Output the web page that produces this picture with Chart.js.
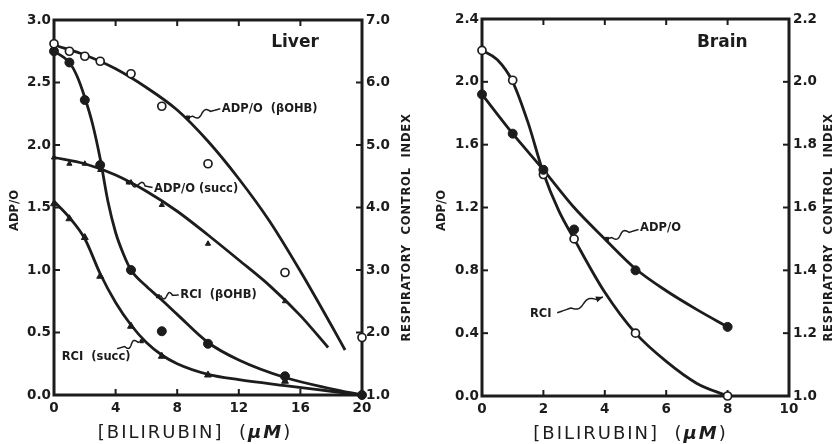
<!DOCTYPE html>
<html><head><meta charset="utf-8">
<script src="https://cdn.jsdelivr.net/npm/chart.js@4"></script>
<style>
html,body{margin:0;padding:0;background:#fff;}
#wrap{position:relative;width:835px;height:444px;overflow:hidden;}
canvas{position:absolute;top:0;}
#liver{left:0}
#brain{left:420px}
</style></head><body>
<div id="wrap"><canvas id="liver" width="420" height="444"></canvas><canvas id="brain" width="415" height="444"></canvas></div>
<script>
// ---------- Liver mitochondria ----------
// measured points (bilirubin, µM)
const liverDose = [0, 1, 2, 3, 5, 7, 10, 15, 20];
const liverAdpoBohb = [2.81, 2.75, 2.71, 2.67, 2.57, 2.31, 1.85, 0.98, 0.46];
const liverRciBohb = [6.50, 6.32, 5.72, 4.68, 3.00, 2.02, 1.82, 1.30, 1.00];
const liverRciSucc = [4.06, 3.82, 3.52, 2.90, 2.10, 1.62, 1.32, 1.22, 1.00];
const liverAdpoSuccDose = [0, 1, 2, 3, 5, 7, 10, 15];
const liverAdpoSucc = [1.90, 1.85, 1.85, 1.80, 1.70, 1.52, 1.21, 0.75];
// hand-drawn fitted curves
const liverFitAdpoBohbDose = [0, 2, 4, 6, 8, 10, 12, 14, 16, 18, 18.9];
const liverFitAdpoBohb = [2.80, 2.72, 2.61, 2.46, 2.28, 2.03, 1.73, 1.39, 0.99, 0.56, 0.36];
const liverFitAdpoSuccDose = [0, 2, 4, 6, 8, 10, 12, 14, 16, 17.8];
const liverFitAdpoSucc = [1.90, 1.85, 1.76, 1.63, 1.47, 1.28, 1.08, 0.875, 0.635, 0.38];
const liverFitRciBohbDose = [0, 1, 1.5, 2, 2.5, 3, 3.5, 4, 4.5, 5, 6, 7, 8, 10, 12, 15, 18, 20];
const liverFitRciBohb = [6.50, 6.32, 6.10, 5.76, 5.34, 4.78, 4.10, 3.60, 3.26, 3.00, 2.74, 2.52, 2.29, 1.84, 1.56, 1.28, 1.10, 1.00];
const liverFitRciSuccDose = [0, 1, 2, 3, 4, 5, 6, 7, 8, 10, 12, 15, 18, 20];
const liverFitRciSucc = [4.10, 3.84, 3.50, 2.94, 2.48, 2.12, 1.84, 1.64, 1.50, 1.33, 1.245, 1.15, 1.06, 1.00];
const liverXTicks = [0, 4, 8, 12, 16, 20];
const liverYTicks = [0, 0.5, 1, 1.5, 2, 2.5, 3];
const liverY2Ticks = [1, 2, 3, 4, 5, 6, 7];

// ---------- Brain mitochondria ----------
const brainDose = [0, 1, 2, 3, 5, 8];
const brainAdpo = [1.92, 1.67, 1.44, 1.06, 0.80, 0.44];
const brainRci = [2.10, 2.005, 1.705, 1.50, 1.20, 1.00];
const brainFitAdpoDose = [0, 1, 2, 3, 4, 5, 6, 7, 8];
const brainFitAdpo = [1.92, 1.67, 1.44, 1.20, 1.00, 0.81, 0.67, 0.55, 0.44];
const brainFitRciDose = [0, 0.5, 1, 1.5, 2, 2.5, 3, 4, 5, 6, 7, 8];
const brainFitRci = [2.10, 2.07, 2.00, 1.87, 1.71, 1.59, 1.50, 1.33, 1.20, 1.11, 1.04, 1.00];
const brainXTicks = [0, 2, 4, 6, 8, 10];
const brainYTicks = [0, 0.4, 0.8, 1.2, 1.6, 2.0, 2.4];
const brainY2Ticks = [1.0, 1.2, 1.4, 1.6, 1.8, 2.0, 2.2];

const ink = '#1c1c1c';
const FONT = '"DejaVu Sans", Verdana, sans-serif';

const pts = (xs, ys) => xs.map((x, i) => ({ x, y: ys[i] }));

function fitLine(xs, ys, axis) {
  return { data: pts(xs, ys), yAxisID: axis, showLine: true, pointRadius: 0,
    borderColor: ink, borderWidth: 2.8, cubicInterpolationMode: 'monotone', clip: false, order: 2 };
}
function marks(xs, ys, axis, style, r, filled) {
  return { data: pts(xs, ys), yAxisID: axis, showLine: false, pointStyle: style, pointRadius: r,
    backgroundColor: filled ? ink : '#fff', borderColor: ink, borderWidth: filled ? 1 : 1.7, clip: false, order: 1 };
}

function squiggle(ctx, tip, tail, arrow) {
  const dx = tail[0] - tip[0], dy = tail[1] - tip[1];
  const L = Math.hypot(dx, dy), nx = -dy / L, ny = dx / L;
  ctx.beginPath();
  for (let i = 0; i <= 60; i++) {
    const s = i / 60;
    let off = 0;
    if (s > 0.15 && s < 0.7) off = 3 * Math.sin((s - 0.15) / 0.55 * 2 * Math.PI);
    const px = tip[0] + dx * s + nx * off, py = tip[1] + dy * s + ny * off;
    if (i) ctx.lineTo(px, py); else ctx.moveTo(px, py);
  }
  ctx.stroke();
  if (arrow) {
    const ux = -dx / L, uy = -dy / L;
    ctx.beginPath();
    ctx.moveTo(tip[0], tip[1]);
    ctx.lineTo(tip[0] - ux * 7 + nx * 3, tip[1] - uy * 7 + ny * 3);
    ctx.lineTo(tip[0] - ux * 7 - nx * 3, tip[1] - uy * 7 - ny * 3);
    ctx.closePath(); ctx.fill();
  } else {
    ctx.fillRect(tip[0] - 2, tip[1] - 2, 4, 4);
  }
}

const panelDecor = {
  id: 'panelDecor',
  beforeDatasetsDraw(chart, args, o) {
    const { ctx, chartArea: a, scales } = chart;
    ctx.save();
    ctx.strokeStyle = ink;
    ctx.lineWidth = 3;
    ctx.strokeRect(a.left, a.top, a.right - a.left, a.bottom - a.top);
    ctx.lineWidth = 2;
    const t = 6;
    const seg = (x0, y0, x1, y1) => { ctx.beginPath(); ctx.moveTo(x0, y0); ctx.lineTo(x1, y1); ctx.stroke(); };
    scales.x.ticks.forEach(k => { const p = scales.x.getPixelForValue(k.value); seg(p, a.bottom, p, a.bottom - t); seg(p, a.top, p, a.top + t); });
    scales.y.ticks.forEach(k => { const p = scales.y.getPixelForValue(k.value); seg(a.left, p, a.left + t, p); });
    scales.y2.ticks.forEach(k => { const p = scales.y2.getPixelForValue(k.value); seg(a.right, p, a.right - t, p); });
    ctx.restore();
  },
  afterDatasetsDraw(chart, args, o) {
    const { ctx, chartArea: a, scales } = chart;
    const X = v => scales.x.getPixelForValue(v), Y = v => scales.y.getPixelForValue(v);
    ctx.save();
    ctx.fillStyle = ink; ctx.strokeStyle = ink;
    // panel name
    ctx.font = 'bold 17px ' + FONT;
    ctx.textBaseline = 'middle'; ctx.textAlign = 'left';
    ctx.fillText(o.name, X(o.nameAt[0]), Y(o.nameAt[1]));
    // curve labels with wavy leaders
    ctx.font = 'bold 11.5px ' + FONT;
    ctx.lineWidth = 1.5;
    o.notes.forEach(n => {
      ctx.fillText(n.text, X(n.at[0]), Y(n.at[1]));
      squiggle(ctx, [X(n.tip[0]), Y(n.tip[1])], [X(n.tail[0]), Y(n.tail[1])], n.arrow);
    });
    // axis titles
    const midY = (a.top + a.bottom) / 2;
    ctx.textAlign = 'center';
    ctx.font = 'bold 11.5px ' + FONT;
    ctx.save(); ctx.translate(a.left - o.yTitleGap, midY + 3); ctx.rotate(-Math.PI / 2);
    ctx.fillText('ADP/O', 0, 0); ctx.restore();
    ctx.save(); ctx.translate(a.right + o.y2TitleGap, midY + 20); ctx.rotate(-Math.PI / 2);
    ctx.letterSpacing = '0.8px';
    ctx.fillText('RESPIRATORY  CONTROL  INDEX', 0, 0); ctx.restore();
    // x title, with the unit in italics
    ctx.letterSpacing = '2px';
    const partA = '[BILIRUBIN]  (', partB = 'μM', partC = ')';
    const fA = '18px ' + FONT, fB = 'italic bold 18px ' + FONT;
    ctx.font = fA; const wA = ctx.measureText(partA).width, wC = ctx.measureText(partC).width;
    ctx.font = fB; const wB = ctx.measureText(partB).width;
    let x = (a.left + a.right) / 2 + o.xTitleShift - (wA + wB + wC) / 2;
    const y = a.bottom + 38;
    ctx.textAlign = 'left';
    ctx.font = fA; ctx.fillText(partA, x, y); x += wA;
    ctx.font = fB; ctx.fillText(partB, x, y); x += wB;
    ctx.font = fA; ctx.fillText(partC, x, y);
    ctx.restore();
  }
};

function makeScales(xTicks, yTicks, y2Ticks, w) {
  const tickFont = { family: FONT, size: 13.5, weight: 'bold' };
  const fix = arr => s => { s.ticks = arr.map(v => ({ value: v })); };
  const common = { grid: { display: false, drawTicks: false }, border: { display: false } };
  return {
    x: Object.assign({ type: 'linear', min: xTicks[0], max: xTicks[xTicks.length - 1],
      afterBuildTicks: fix(xTicks), afterFit: s => { s.height = w.bottom; },
      ticks: { font: tickFont, color: ink, padding: 5, maxRotation: 0, autoSkip: false, callback: v => String(v) } }, common),
    y: Object.assign({ type: 'linear', position: 'left', min: yTicks[0], max: yTicks[yTicks.length - 1],
      afterBuildTicks: fix(yTicks), afterFit: s => { s.width = w.left; },
      ticks: { font: tickFont, color: ink, padding: 3, autoSkip: false, callback: v => v.toFixed(1) } }, common),
    y2: Object.assign({ type: 'linear', position: 'right', min: y2Ticks[0], max: y2Ticks[y2Ticks.length - 1],
      afterBuildTicks: fix(y2Ticks), afterFit: s => { s.width = w.right; },
      ticks: { font: tickFont, color: ink, padding: 4, autoSkip: false, callback: v => v.toFixed(1) } }, common)
  };
}

const baseOpts = {
  responsive: false, animation: false, devicePixelRatio: 1, events: [],
};

new Chart(document.getElementById('liver'), {
  type: 'scatter',
  data: { datasets: [
    fitLine(liverFitAdpoBohbDose, liverFitAdpoBohb, 'y'),
    fitLine(liverFitAdpoSuccDose, liverFitAdpoSucc, 'y'),
    fitLine(liverFitRciBohbDose, liverFitRciBohb, 'y2'),
    fitLine(liverFitRciSuccDose, liverFitRciSucc, 'y2'),
    marks(liverDose, liverAdpoBohb, 'y', 'circle', 4, false),
    marks(liverDose, liverRciBohb, 'y2', 'circle', 4.5, true),
    marks(liverAdpoSuccDose, liverAdpoSucc, 'y', 'triangle', 3, true),
    marks(liverDose, liverRciSucc, 'y2', 'triangle', 4, true)
  ] },
  options: Object.assign({}, baseOpts, {
    layout: { padding: { top: 20, left: 0, right: 0, bottom: 0 } },
    scales: makeScales(liverXTicks, liverYTicks, liverY2Ticks, { left: 54, right: 58, bottom: 49 }),
    plugins: {
      legend: { display: false }, tooltip: { enabled: false },
      panelDecor: {
        name: 'Liver', nameAt: [14.1, 2.82],
        yTitleGap: 39, y2TitleGap: 45, xTitleShift: -13,
        notes: [
          { text: 'ADP/O  (βOHB)', at: [10.9, 2.29], tip: [8.7, 2.22], tail: [10.8, 2.29] },
          { text: 'ADP/O (succ)', at: [6.5, 1.65], tip: [4.8, 1.70], tail: [6.4, 1.66] },
          { text: 'RCI  (βOHB)', at: [8.2, 0.80], tip: [6.75, 0.79], tail: [8.1, 0.80] },
          { text: 'RCI  (succ)', at: [0.5, 0.30], tip: [5.7, 0.43], tail: [4.1, 0.37] }
        ]
      }
    }
  }),
  plugins: [panelDecor]
});

new Chart(document.getElementById('brain'), {
  type: 'scatter',
  data: { datasets: [
    fitLine(brainFitAdpoDose, brainFitAdpo, 'y'),
    fitLine(brainFitRciDose, brainFitRci, 'y2'),
    marks(brainDose, brainAdpo, 'y', 'circle', 4.5, true),
    marks(brainDose, brainRci, 'y2', 'circle', 4, false)
  ] },
  options: Object.assign({}, baseOpts, {
    layout: { padding: { top: 19, left: 0, right: 0, bottom: 0 } },
    scales: makeScales(brainXTicks, brainYTicks, brainY2Ticks, { left: 62, right: 46, bottom: 48 }),
    plugins: {
      legend: { display: false }, tooltip: { enabled: false },
      panelDecor: {
        name: 'Brain', nameAt: [7.0, 2.25],
        yTitleGap: 40, y2TitleGap: 40, xTitleShift: -5,
        notes: [
          { text: 'ADP/O', at: [5.15, 1.07], tip: [4.07, 1.00], tail: [5.1, 1.06] },
          { text: 'RCI', at: [1.56, 0.52], tip: [3.94, 0.63], tail: [2.45, 0.53], arrow: true }
        ]
      }
    }
  }),
  plugins: [panelDecor]
});
</script>
</body></html>
